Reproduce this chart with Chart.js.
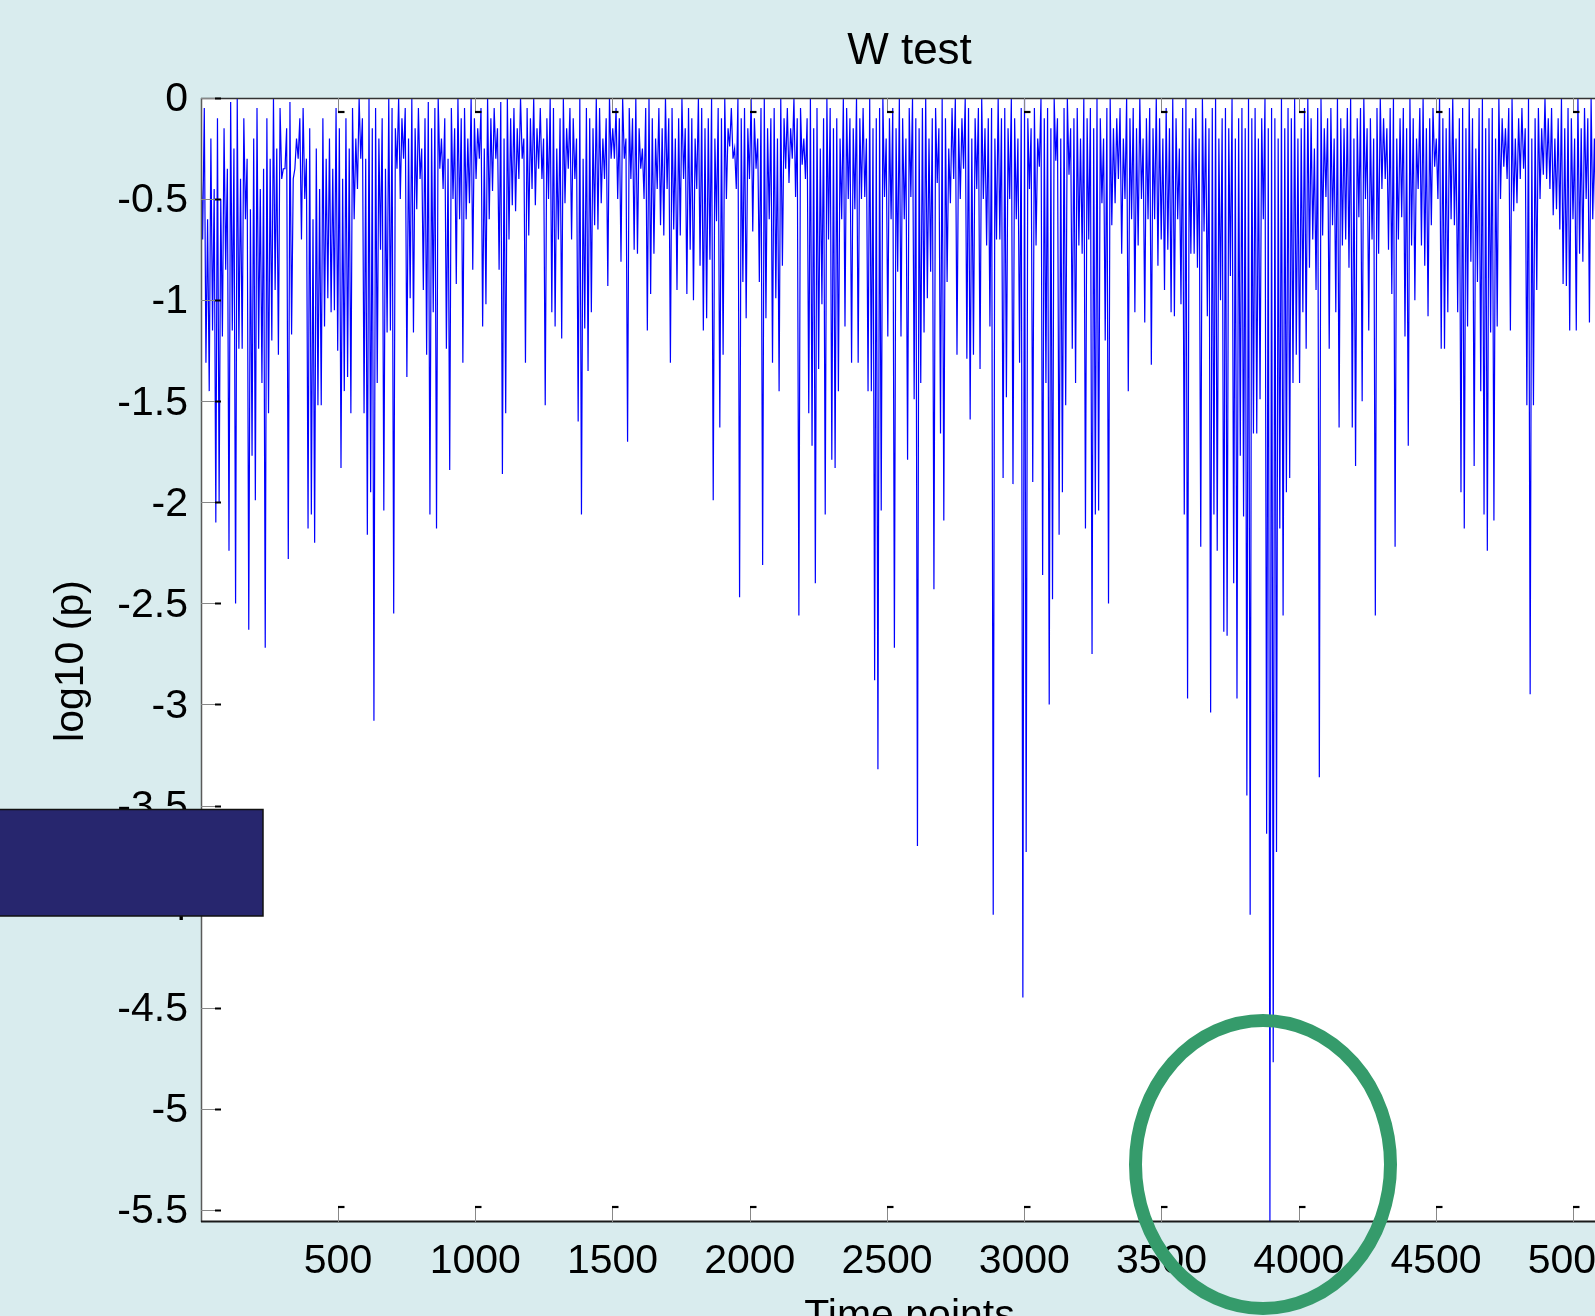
<!DOCTYPE html>
<html><head><meta charset="utf-8">
<script src="https://cdn.jsdelivr.net/npm/chart.js@4.4.1/dist/chart.umd.min.js"></script>
<style>
html,body{margin:0;padding:0;overflow:hidden;background:#d9ecee;width:1595px;height:1316px;}
#wrap{position:absolute;left:0;top:0;width:1820px;height:1316px;}
canvas{display:block;}
</style></head><body>
<div id="wrap"><canvas id="c" width="1820" height="1316" style="width:1820px;height:1316px"></canvas></div>
<script>
const chartTitle = 'W test';
const xAxisTitle = 'Time points';
const yAxisTitle = 'log10 (p)';
const xTickValues = [500, 1000, 1500, 2000, 2500, 3000, 3500, 4000, 4500, 5000];
const yTickValues = [0, -0.5, -1, -1.5, -2, -2.5, -3, -3.5, -4, -4.5, -5, -5.5];
const xRange = [1, 5163];
const yRange = [-5.56, 0];
const timeStart = 1;      // first time point
const sampleStep = 6;     // time points between consecutive samples

// local maxima (upper ends of the strokes), one per pair of samples
const upperValues = [
-.3,-.05,-.6,-.2,-.45,-.1,-.5,-.15,-.35,-.02,
-.25,0,-.4,-.1,-.3,-.55,-.2,-.05,-.45,-.35,
-.1,-.3,0,-.25,-.05,-.35,-.15,-.02,-.4,-.2,
-.1,-.05,-.3,-.15,-.6,-.25,-.45,-.1,-.3,-.2,
-.35,-.05,-.15,-.4,-.1,-.25,-.05,-.2,0,-.1,
-.3,0,-.15,-.05,-.2,-.1,-.35,0,-.05,-.15,
0,-.1,-.05,-.2,0,-.15,-.05,-.25,-.1,-.02,
-.15,-.05,0,-.2,-.1,-.3,-.05,-.15,0,-.1,
-.05,-.2,0,-.1,-.15,-.05,-.25,0,-.1,-.05,
-.15,-.02,-.2,0,-.1,-.05,-.15,0,-.2,-.05,
-.1,0,-.15,-.05,-.2,-.1,0,-.05,-.25,-.1,
0,-.15,-.05,-.1,-.2,0,-.3,-.05,-.1,-.15,
0,-.05,-.2,-.1,0,-.15,-.05,-.1,0,-.2,
-.05,-.1,0,-.15,-.25,-.05,0,-.1,-.2,-.05,
-.15,0,-.1,-.05,-.2,-.1,0,-.15,-.05,-.1,
-.2,0,-.05,-.15,-.1,0,-.2,-.05,-.1,0,
-.15,-.05,-.25,0,-.1,-.05,-.15,0,-.1,-.2,
-.05,0,-.15,-.1,-.05,-.2,0,-.1,-.05,-.15,
0,-.1,-.05,-.2,-.1,0,-.15,-.05,-.25,-.1,
0,-.05,-.15,-.1,-.2,0,-.05,-.1,-.15,0,
-.1,-.05,-.2,0,-.15,-.1,-.05,0,-.2,-.1,
-.05,-.15,0,-.1,-.2,-.05,0,-.1,-.15,-.05,
0,-.2,-.1,-.05,-.15,0,-.1,-.25,-.05,0,
-.15,-.1,0,-.05,-.2,-.1,-.05,0,-.15,-.1,
-.05,-.2,0,-.1,-.05,-.15,0,-.1,-.2,-.05,
0,-.1,-.15,-.05,-.2,0,-.1,-.05,-.15,0,
-.1,-.2,-.05,0,-.15,-.1,-.05,-.2,0,-.1,
-.05,-.15,0,-.1,-.2,-.05,0,-.15,-.1,-.05,
-.2,0,-.1,-.05,-.15,0,-.2,-.1,-.05,-.15,
0,-.1,-.2,-.05,-.15,0,-.1,-.25,-.05,0,
-.15,-.1,-.05,-.2,0,-.1,-.15,-.05,0,-.2,
-.1,-.05,-.15,0,-.2,-.1,-.05,-.15,0,-.1,
-.05,-.2,-.1,0,-.15,-.05,-.1,-.2,0,-.15,
-.05,-.1,0,-.2,-.15,-.05,0,-.1,-.25,-.05,
0,-.15,-.1,-.05,-.2,0,-.1,-.15,-.05,0,
-.2,-.1,-.05,0,-.15,-.1,-.2,-.05,0,-.1,
-.15,-.05,0,-.2,-.1,-.05,-.15,0,-.1,-.2,
-.05,0,-.15,-.1,-.05,-.2,0,-.1,-.15,-.05,
0,-.2,-.1,-.05,-.15,0,-.1,-.25,-.05,0,
-.15,-.1,-.05,-.2,0,-.1,-.15,-.05,0,-.2,
-.1,-.05,-.15,0,-.2,-.1,-.05,-.15,0,-.1,
-.05,-.2,-.1,0,-.15,-.05,-.1,-.2,0,-.15,
-.05,-.1,0,-.2,-.15,-.05,0,-.1,-.2,-.05
];

// local minima (lower ends of the strokes)
const lowerValues = [
-0.7,-1.31,-1.45,-1.15,-2.1,-2.0,-1.18,-0.85,-2.24,-1.15,
-2.5,-1.24,-1.24,-0.6,-2.63,-1.77,-1.99,-1.24,-1.41,-2.72,
-1.56,-1.2,-0.95,-1.27,-0.4,-0.35,-2.28,-1.17,-0.35,-0.3,
-0.7,-0.5,-2.13,-2.06,-2.2,-1.52,-1.52,-1.13,-0.99,-1.06,
-1.05,-1.25,-1.83,-1.45,-1.38,-1.56,-0.6,-0.45,-0.3,-1.56,
-2.16,-1.95,-3.08,-1.41,-0.75,-2.04,-1.16,-1.15,-2.55,-0.35,
-0.5,-0.3,-1.38,-0.99,-1.16,-0.55,-0.4,-0.95,-1.27,-2.06,
-1.06,-2.13,-0.35,-0.45,-1.24,-1.84,-0.5,-0.92,-0.6,-1.31,
-0.6,-0.52,-0.85,-0.4,-0.3,-1.13,-1.02,-0.6,-0.46,-0.3,
-0.85,-1.86,-1.56,-0.7,-0.53,-0.56,-0.4,-0.3,-1.31,-0.68,
-0.45,-0.53,-0.35,-0.4,-1.52,-0.5,-1.06,-1.13,-0.7,-1.19,
-0.52,-0.35,-0.7,-0.4,-1.6,-2.06,-1.14,-1.35,-1.06,-0.63,
-0.65,-0.52,-0.4,-0.93,-0.3,-0.3,-0.5,-0.81,-0.3,-1.7,
-0.4,-0.75,-0.77,-0.35,-0.5,-1.15,-0.97,-0.77,-0.45,-0.63,
-0.68,-0.45,-1.31,-0.65,-0.95,-0.68,-0.4,-0.97,-0.75,-1.0,
-0.45,-0.83,-1.15,-1.09,-0.8,-1.99,-0.61,-1.63,-1.27,-0.5,
-0.24,-0.3,-0.45,-2.47,-0.91,-1.09,-0.4,-0.66,-0.35,-0.91,
-2.31,-1.09,-0.6,-1.31,-0.99,-1.45,-0.83,-0.35,-0.42,-0.3,
-0.49,-2.56,-0.33,-0.4,-1.56,-1.72,-2.4,-1.34,-1.02,-2.06,
-0.7,-1.79,-1.83,-1.45,-0.6,-1.13,-0.5,-1.31,-0.55,-1.31,
-0.5,-0.49,-1.45,-1.45,-2.88,-3.32,-2.04,-0.49,-1.18,-0.6,
-2.72,-0.86,-1.18,-0.6,-1.79,-0.49,-1.49,-3.7,-1.41,-1.16,
-0.99,-0.86,-2.43,-0.42,-1.66,-2.09,-0.91,-0.52,-0.4,-1.27,
-0.5,-0.35,-1.29,-1.59,-1.27,-0.45,-1.34,-0.5,-0.73,-1.13,
-4.04,-0.7,-0.7,-1.88,-1.48,-0.5,-1.91,-0.6,-1.31,-4.45,
-3.73,-0.45,-1.9,-0.73,-0.34,-2.36,-1.41,-3.0,-2.48,-0.31,
-2.16,-1.95,-1.52,-0.38,-1.24,-1.41,-0.73,-0.77,-2.13,-0.7,
-2.75,-2.06,-2.04,-0.52,-1.2,-2.5,-0.63,-0.52,-0.4,-0.77,
-0.5,-1.45,-0.6,-1.06,-0.73,-0.5,-1.11,-0.6,-1.32,-0.6,
-0.83,-0.7,-0.95,-0.75,-1.06,-1.08,-0.6,-1.02,-2.06,-2.97,
-0.77,-0.77,-0.84,-2.22,-0.66,-1.08,-3.04,-2.06,-2.24,-1.0,
-2.64,-2.66,-0.88,-2.4,-2.97,-1.77,-2.07,-3.45,-4.04,-1.66,
-1.66,-1.49,-0.6,-3.64,-5.56,-4.77,-3.73,-2.13,-2.56,-1.95,
-1.88,-1.41,-1.27,-1.41,-1.06,-1.24,-0.84,-0.7,-0.95,-3.36,
-0.68,-0.49,-1.24,-0.63,-1.06,-1.63,-0.73,-0.7,-0.84,-1.63,
-1.82,-0.59,-1.5,-0.5,-1.15,-0.7,-2.56,-0.77,-0.45,-0.4,
-0.75,-0.97,-2.22,-0.7,-0.59,-1.18,-1.72,-0.73,-1.0,-0.45,
-0.73,-0.83,-1.08,-0.63,-0.34,-0.5,-1.24,-1.24,-1.06,-0.6,
-0.63,-1.06,-1.95,-2.13,-1.13,-0.81,-1.82,-0.91,-1.45,-2.06,
-2.24,-1.16,-2.09,-1.13,-0.5,-0.34,-0.4,-1.15,-0.56,-0.52,
-0.4,-0.35,-1.52,-2.95,-1.52,-0.95,-0.5,-0.38,-0.4,-0.45,
-0.58,-0.55,-0.65,-0.92,-0.93,-1.15,-0.6,-1.15,-0.77,-0.81,
-0.5,-1.11,-0.6,-0.7,-0.5,-0.9,-0.4,-0.7,-0.3,-0.6
];

const FONT = '"Liberation Sans", Arial, Helvetica, sans-serif';

// interleave upper and lower samples into the plotted series
const series = [];
for (let k = 0; k < lowerValues.length; k++) {
  series.push({ x: timeStart + 2 * k * sampleStep, y: upperValues[k] });
  series.push({ x: timeStart + (2 * k + 1) * sampleStep, y: lowerValues[k] });
}

const decorPlugin = {
  id: 'decor',
  beforeDraw(chart) {
    const { ctx, chartArea: a } = chart;
    ctx.save();
    ctx.fillStyle = '#d9ecee';
    ctx.fillRect(0, 0, chart.width, chart.height);
    ctx.fillStyle = '#ffffff';
    ctx.fillRect(a.left, a.top, a.right - a.left, a.bottom - a.top);
    ctx.restore();
  },
  afterDraw(chart) {
    const { ctx, chartArea: a, scales } = chart;
    const xs = scales.x, ys = scales.y;
    ctx.save();
    // frame
    ctx.lineCap = 'butt';
    ctx.strokeStyle = '#333333'; ctx.lineWidth = 1.5;
    ctx.beginPath(); ctx.moveTo(a.left, a.top + 0.5); ctx.lineTo(a.right, a.top + 0.5); ctx.stroke();
    ctx.strokeStyle = '#5a5a5a';
    ctx.beginPath(); ctx.moveTo(a.left + 0.5, a.top); ctx.lineTo(a.left + 0.5, a.bottom); ctx.stroke();
    ctx.strokeStyle = '#1a1a1a'; ctx.lineWidth = 1.8;
    ctx.beginPath(); ctx.moveTo(a.left, a.bottom - 0.5); ctx.lineTo(a.right, a.bottom - 0.5); ctx.stroke();
    // inward tick marks
    yTickValues.forEach(v => {
      const py = Math.round(ys.getPixelForValue(v)) + 0.5;
      ctx.strokeStyle = '#888888'; ctx.lineWidth = 1;
      ctx.beginPath(); ctx.moveTo(a.left, py); ctx.lineTo(a.left + 14, py); ctx.stroke();
      ctx.strokeStyle = '#000000'; ctx.lineWidth = 2;
      ctx.beginPath(); ctx.moveTo(a.left + 14, py); ctx.lineTo(a.left + 20, py); ctx.stroke();
    });
    xTickValues.forEach(v => {
      const px = Math.round(xs.getPixelForValue(v)) + 0.5;
      ctx.strokeStyle = '#888888'; ctx.lineWidth = 1;
      ctx.beginPath(); ctx.moveTo(px, a.bottom); ctx.lineTo(px, a.bottom - 15); ctx.stroke();
      ctx.beginPath(); ctx.moveTo(px, a.top); ctx.lineTo(px, a.top + 14); ctx.stroke();
      ctx.strokeStyle = '#000000'; ctx.lineWidth = 2.2;
      ctx.beginPath(); ctx.moveTo(px - 0.5, a.bottom - 15); ctx.lineTo(px + 6, a.bottom - 15); ctx.stroke();
      ctx.beginPath(); ctx.moveTo(px - 0.5, a.top + 14); ctx.lineTo(px + 6, a.top + 14); ctx.stroke();
    });
    // texts
    ctx.fillStyle = '#000000';
    const cx = (a.left + a.right) / 2;
    ctx.font = '44px ' + FONT;
    ctx.textAlign = 'center'; ctx.textBaseline = 'alphabetic';
    ctx.fillText(chartTitle, cx, 64);
    ctx.font = '41px ' + FONT;
    ctx.fillText(xAxisTitle, cx, 1328);
    ctx.save();
    ctx.translate(83, (a.top + a.bottom) / 2 + 1);
    ctx.rotate(-Math.PI / 2);
    ctx.fillText(yAxisTitle, 0, 0);
    ctx.restore();
    // navy panel overlay
    ctx.fillStyle = '#27266e';
    ctx.fillRect(-2, 809.5, 265, 106.5);
    ctx.strokeStyle = '#111111'; ctx.lineWidth = 1.5;
    ctx.strokeRect(-2, 809.5, 265, 106.5);
    // green highlight ellipse
    ctx.strokeStyle = '#359b6b'; ctx.lineWidth = 13;
    ctx.beginPath();
    ctx.ellipse(1263, 1164.5, 127.5, 144, 0, 0, Math.PI * 2);
    ctx.stroke();
    ctx.restore();
  }
};

new Chart(document.getElementById('c'), {
  type: 'line',
  data: {
    datasets: [{
      data: series,
      borderColor: '#0000ff',
      borderWidth: 1.2,
      pointRadius: 0,
      tension: 0,
      fill: false
    }]
  },
  options: {
    responsive: false,
    animation: false,
    devicePixelRatio: 1,
    layout: { padding: { top: 98, left: 0, right: 202, bottom: 0 } },
    plugins: { legend: { display: false }, title: { display: false }, tooltip: { enabled: false } },
    scales: {
      x: {
        type: 'linear', min: xRange[0], max: xRange[1],
        grid: { display: false, drawTicks: false },
        border: { display: false },
        afterBuildTicks: s => { s.ticks = xTickValues.map(v => ({ value: v })); },
        afterFit: s => { s.height = 94; },
        ticks: { color: '#000', font: { family: FONT, size: 41 }, padding: 15, maxRotation: 0, autoSkip: false,
                 callback: v => String(v) }
      },
      y: {
        type: 'linear', min: yRange[0], max: yRange[1],
        grid: { display: false, drawTicks: false },
        border: { display: false },
        afterBuildTicks: s => { s.ticks = yTickValues.map(v => ({ value: v })); },
        afterFit: s => { s.width = 201; },
        ticks: { color: '#000', font: { family: FONT, size: 41 }, padding: 13, labelOffset: 2, autoSkip: false,
                 callback: v => String(v) }
      }
    }
  },
  plugins: [decorPlugin]
});
</script>
</body></html>
